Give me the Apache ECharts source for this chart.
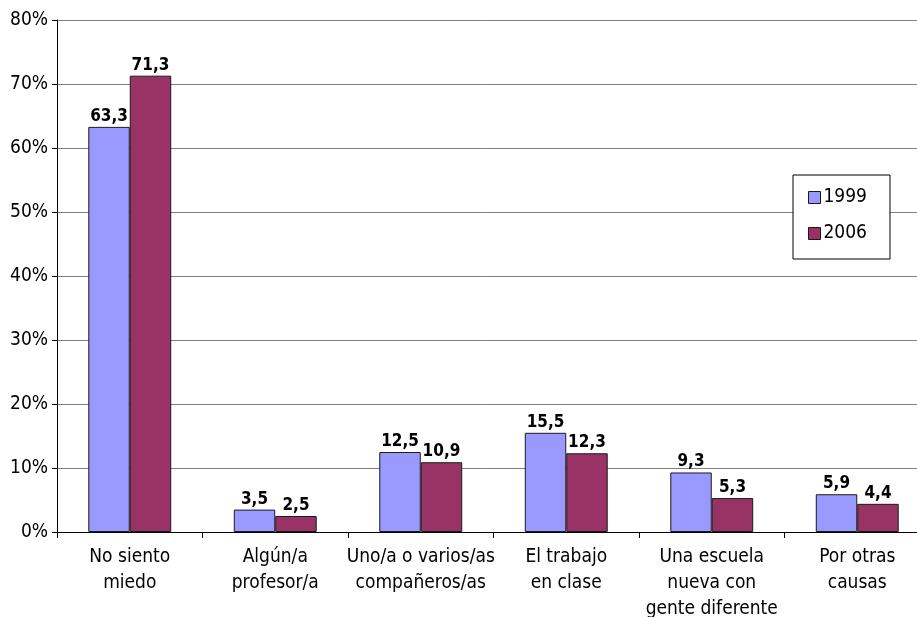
<!DOCTYPE html>
<html>
<head>
<meta charset="utf-8">
<script src="https://cdn.jsdelivr.net/npm/echarts@6/dist/echarts.min.js"></script>
<style>
html,body{margin:0;padding:0;background:#fff;}
#chart{width:917px;height:617px;}
</style>
</head>
<body>
<div id="chart"></div>
<script>
// Motivos de miedo al ir a la escuela, 1999 frente a 2006 (%)
const categories = [
  'No siento\nmiedo',
  'Algún/a\nprofesor/a',
  'Uno/a o varios/as\ncompañeros/as',
  'El trabajo\nen clase',
  'Una escuela\nnueva con\ngente diferente',
  'Por otras\ncausas'
];
const values1999 = [63.3, 3.5, 12.5, 15.5, 9.3, 5.9];
const values2006 = [71.3, 2.5, 10.9, 12.3, 5.3, 4.4];
const yTicks = [0, 10, 20, 30, 40, 50, 60, 70, 80];

const FONT = '"DejaVu Sans Condensed", "Liberation Sans Narrow", "Liberation Sans", sans-serif';
const fmtComma = p => p.value.toFixed(1).replace('.', ',');

const chart = echarts.init(document.getElementById('chart'), null, {renderer: 'canvas'});
chart.setOption({
  animation: false,
  backgroundColor: '#ffffff',
  grid: {left: 57, top: 20, width: 873, height: 512, containLabel: false, outerBoundsMode: 'none'},
  legend: {
    orient: 'vertical',
    left: 793, top: 175,
    padding: [13, 23, 16, 15],
    itemGap: 17,
    itemWidth: 12, itemHeight: 12,
    borderColor: '#000', borderWidth: 1,
    backgroundColor: '#fff',
    icon: 'rect',
    itemStyle: {borderColor: '#1a1a1a', borderWidth: 1},
    textStyle: {fontFamily: FONT, fontSize: 19, color: '#000', padding: [0, 0, 0, -2]},
    data: ['1999', '2006']
  },
  xAxis: {
    type: 'category',
    data: categories,
    axisLine: {lineStyle: {color: '#000', width: 1}},
    axisTick: {show: true, length: 6, lineStyle: {color: '#000'}},
    axisLabel: {fontFamily: FONT, fontSize: 19, color: '#000', lineHeight: 26, margin: 12, interval: 0}
  },
  yAxis: {
    type: 'value',
    min: 0, max: 80, interval: 10,
    axisLine: {show: true, lineStyle: {color: '#000', width: 1}},
    axisTick: {show: true, length: 5, inside: false, lineStyle: {color: '#000'}},
    splitLine: {show: true, lineStyle: {color: '#808080', width: 1}},
    axisLabel: {
      fontFamily: FONT, fontSize: 19, color: '#000', margin: 9,
      formatter: v => yTicks.includes(v) ? v + '%' : ''
    }
  },
  series: [
    {
      name: '1999', type: 'bar', data: values1999,
      barGap: '0%', barCategoryGap: '43%',
      itemStyle: {color: '#9999ff', borderColor: '#1a1a1a', borderWidth: 1},
      label: {show: true, position: 'top', distance: 2, formatter: fmtComma,
        fontFamily: FONT, fontSize: 17, fontWeight: 'bold', color: '#000'}
    },
    {
      name: '2006', type: 'bar', data: values2006,
      itemStyle: {color: '#993366', borderColor: '#1a1a1a', borderWidth: 1},
      label: {show: true, position: 'top', distance: 2, formatter: fmtComma,
        fontFamily: FONT, fontSize: 17, fontWeight: 'bold', color: '#000'}
    }
  ]
});
</script>
</body>
</html>
